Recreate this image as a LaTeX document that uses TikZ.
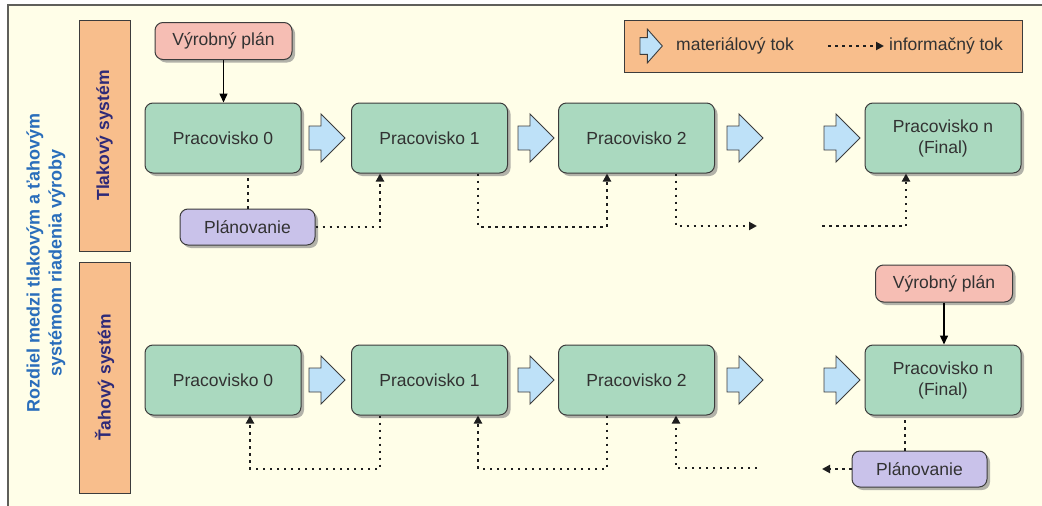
\documentclass[tikz,border=0pt]{standalone}
\usepackage{fontspec}
\setmainfont{Liberation Sans}
\usetikzlibrary{arrows.meta,shadows,calc}
\definecolor{cream}{RGB}{255,254,232}
\definecolor{framec}{RGB}{95,95,90}
\definecolor{stgreen}{RGB}{170,217,191}
\definecolor{plpink}{RGB}{246,190,180}
\definecolor{pllav}{RGB}{201,194,234}
\definecolor{sideor}{RGB}{248,190,140}
\definecolor{matblue}{RGB}{190,225,248}
\definecolor{bordc}{RGB}{60,60,60}
\definecolor{txtc}{RGB}{50,50,50}
\definecolor{titleblue}{RGB}{42,110,187}
\definecolor{sidetxt}{RGB}{46,42,120}
\definecolor{infoc}{RGB}{30,30,30}
\newcommand\myfont{\fontsize{17.5}{21}\selectfont}
\tikzset{
  station/.style={draw=bordc, line width=1pt, fill=stgreen, rounded corners=8pt,
    minimum width=156pt, minimum height=70pt, align=center, font=\myfont, text=txtc,
    drop shadow={shadow xshift=3pt,shadow yshift=-3pt,opacity=0.6}},
  planbox/.style={station, fill=plpink, minimum width=137pt, minimum height=37pt},
  schedbox/.style={station, fill=pllav, minimum width=135pt, minimum height=36pt},
  sidebox/.style={draw=bordc, line width=1pt, fill=sideor, rotate=90,
    minimum width=231pt, minimum height=51pt, inner sep=0pt,
    font=\myfont\bfseries, text=sidetxt},
  info/.style={draw=infoc, line width=2pt, dash pattern=on 2.5pt off 4.5pt},
  infoarr/.style={info, -{Triangle[length=8pt,width=8pt]}},
  solidarr/.style={draw=black, line width=1.5pt, -{Triangle[length=9pt,width=8pt]}},
  matstyle/.style={draw=bordc, line width=0.9pt, fill=matblue, line join=miter},
  matarrow/.pic={\draw[matstyle] (0,-12) -- (12,-12) -- (12,-24) -- (36,0) -- (12,24) -- (12,12) -- (0,12) -- cycle;},
  legtext/.style={anchor=west, font=\myfont, text=txtc, inner sep=0pt}
}
\begin{document}
\begin{tikzpicture}[x=1pt,y=-1pt]
\useasboundingbox (0,0) rectangle (1042,506);
\fill[white] (0,0) rectangle (1042,506);
\fill[cream] (8,5) rectangle (1042,506);
\draw[framec, line width=1.5pt] (8,506) -- (8,5) -- (1042,5);

% title
\node[rotate=90, align=center, font=\fontsize{18}{22}\selectfont\bfseries, text=titleblue] (title) at (46,263)
  {Rozdiel medzi tlakovým a ťahovým\\systémom riadenia výroby};

% side labels
\node[sidebox] (push) at (104.5,135.5) {Tlakový systém};
\node[sidebox] (pull) at (104.5,377.5) {Ťahový systém};

% legend
\node[draw=bordc, line width=1pt, fill=sideor, minimum width=398pt, minimum height=52pt] (legend) at (823,46) {};
\pic[xscale=0.62,yscale=0.7] at (640,46) {matarrow};
\node[legtext] (legm) at (676,46) {materiálový tok};
\coordinate (lg1) at (828,46);
\coordinate (lg2) at (884,46);
\draw[infoarr] (lg1) -- (lg2);
\node[legtext] (legi) at (889,46) {informačný tok};

% push system
\node[planbox] (vp1) at (223.5,41) {Výrobný plán};
\node[station] (p0) at (223,138) {Pracovisko 0};
\node[station] (p1) at (429.5,138) {Pracovisko 1};
\node[station] (p2) at (636.5,138) {Pracovisko 2};
\node[station] (pn) at (943,138) {Pracovisko n\\(Final)};
\node[schedbox] (pl1) at (247.5,227) {Plánovanie};
\pic at (309,138) {matarrow};
\pic at (518,138) {matarrow};
\pic at (727,138) {matarrow};
\pic at (824,138) {matarrow};
\draw[solidarr] (vp1.south) -- (vp1.south |- p0.north);
\draw[info] (pl1.north) -- (pl1.north |- p0.south);
\draw[infoarr] (pl1.east) -| ([xshift=-49.5pt]p1.south);
\draw[infoarr] ([xshift=48.5pt]p1.south) -- ++(0,53) -| ([xshift=-29.5pt]p2.south);
\coordinate (t1) at (757,226);
\draw[infoarr] ([xshift=39.5pt]p2.south) |- (t1);
\coordinate (t2) at (822,226);
\draw[infoarr] (t2) -| ([xshift=-37pt]pn.south);

% pull system
\node[planbox] (vp2) at (944,283.5) {Výrobný plán};
\node[station] (q0) at (223,380) {Pracovisko 0};
\node[station] (q1) at (429.5,380) {Pracovisko 1};
\node[station] (q2) at (636.5,380) {Pracovisko 2};
\node[station] (qn) at (943,380) {Pracovisko n\\(Final)};
\node[schedbox] (pl2) at (919.5,469) {Plánovanie};
\pic at (309,380) {matarrow};
\pic at (518,380) {matarrow};
\pic at (727,380) {matarrow};
\pic at (824,380) {matarrow};
\draw[solidarr] (vp2.south) -- (vp2.south |- qn.north);
\draw[info] ([xshift=-14.5pt]pl2.north) -- ([xshift=-38pt]qn.south);
\coordinate (b2) at (822,469);
\draw[infoarr] (pl2.west) -- (b2);
\coordinate (b1) at (757,468);
\draw[infoarr] (b1) -| ([xshift=39.5pt]q2.south);
\draw[infoarr] ([xshift=-29.5pt]q2.south) -- ++(0,53) -| ([xshift=48.5pt]q1.south);
\draw[infoarr] ([xshift=-49.5pt]q1.south) -- ++(0,53) -| ([xshift=27pt]q0.south);
\end{tikzpicture}
\end{document}
